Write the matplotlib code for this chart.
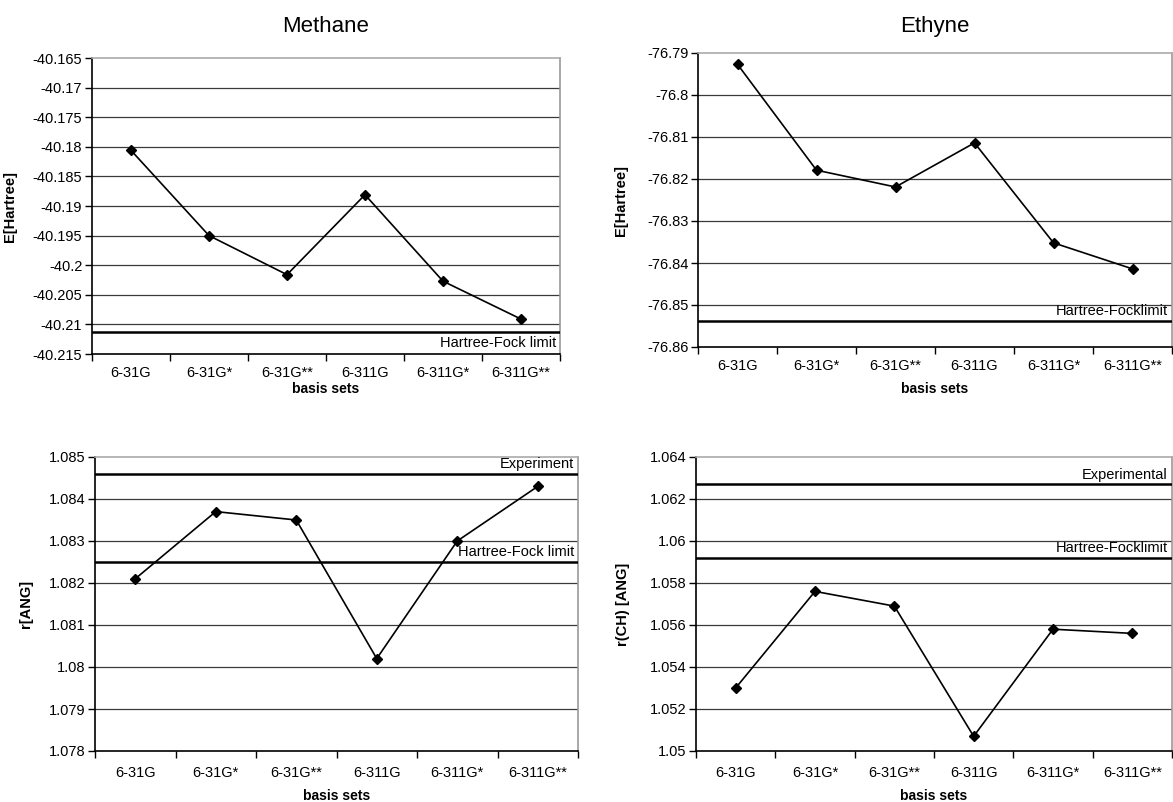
import matplotlib
matplotlib.use("Agg")
import matplotlib.pyplot as plt
from matplotlib.ticker import FixedLocator, FuncFormatter

plt.rcParams['font.family'] = ['Liberation Sans', 'DejaVu Sans']

# data
basis_sets = ['6-31G', '6-31G*', '6-31G**', '6-311G', '6-311G*', '6-311G**']

methane_E = [-40.1806, -40.1950, -40.2016, -40.1881, -40.2027, -40.2091]
methane_E_hf = -40.2112

ethyne_E = [-76.7927, -76.8179, -76.8219, -76.8114, -76.8352, -76.8414]
ethyne_E_hf = -76.8538

methane_r = [1.0821, 1.0837, 1.0835, 1.0802, 1.0830, 1.0843]
methane_r_exp = 1.0846
methane_r_hf = 1.0825

ethyne_r = [1.0530, 1.0576, 1.0569, 1.0507, 1.0558, 1.0556]
ethyne_r_exp = 1.0627
ethyne_r_hf = 1.0592

W, H = 1173, 802
fig = plt.figure(figsize=(W / 100, H / 100), dpi=100)


def make_axes(left, right, top, bottom):
    return fig.add_axes([left / W, 1 - bottom / H, (right - left) / W, (bottom - top) / H])


def fmt(v, pos):
    return f"{v:.4f}".rstrip('0').rstrip('.')


def style(ax, vals, ymin, ymax, step, ylabel, ylab_x, xlab_y, pad):
    x = list(range(len(basis_sets)))
    ax.plot(x, vals, color='black', lw=1.2, marker='D', ms=5, zorder=5)
    ax.set_xlim(-0.5, len(basis_sets) - 0.5)
    ax.set_ylim(ymin, ymax)
    n = int(round((ymax - ymin) / step))
    ticks = [ymin + i * step for i in range(n + 1)]
    ax.yaxis.set_major_locator(FixedLocator(ticks))
    ax.yaxis.set_major_formatter(FuncFormatter(fmt))
    for t in ticks[1:-1]:
        ax.axhline(t, color='#3a3a3a', lw=0.9, zorder=1)
    ax.set_xticks(x)
    ax.set_xticklabels(basis_sets)
    ax.set_xticks([i - 0.5 for i in range(len(basis_sets) + 1)], minor=True)
    ax.tick_params(axis='x', which='major', length=0, pad=pad, labelsize=10.5)
    ax.tick_params(axis='x', which='minor', length=5, direction='out', width=1)
    ax.tick_params(axis='y', length=5, direction='out', width=1, labelsize=10.5, pad=2)
    for s in ['left', 'bottom']:
        ax.spines[s].set_color('black')
        ax.spines[s].set_linewidth(1.2)
    ax.spines['top'].set_color('#aaaaaa')
    ax.spines['right'].set_color('#999999')
    ax.spines['top'].set_linewidth(1.2)
    ax.spines['right'].set_linewidth(1.2)
    ax.set_ylabel(ylabel, fontsize=10.5, fontweight='bold')
    ax.set_xlabel('basis sets', fontsize=10, fontweight='bold')
    bb = ax.get_position()
    ax.yaxis.set_label_coords((ylab_x / W - bb.x0) / bb.width, 0.5)
    ax.xaxis.set_label_coords(0.5, xlab_y)


def ref_line(ax, y, label, below=False):
    ax.axhline(y, color='black', lw=1.8, zorder=3)
    ax.annotate(label, xy=(1, y), xycoords=('axes fraction', 'data'),
                xytext=(-3, -3 if below else 2), textcoords='offset points',
                ha='right', va='top' if below else 'bottom', fontsize=10.5)


ax1 = make_axes(92, 560, 58, 354)
style(ax1, methane_E, -40.215, -40.165, 0.005, 'E[Hartree]', 17, -0.095, 9)
ref_line(ax1, methane_E_hf, 'Hartree-Fock limit', below=True)
ax1.set_title('Methane', fontsize=16, pad=19)

ax2 = make_axes(698, 1172, 53, 347)
style(ax2, ethyne_E, -76.86, -76.79, 0.01, 'E[Hartree]', 628, -0.12, 9)
ref_line(ax2, ethyne_E_hf, 'Hartree-Focklimit')
ax2.set_title('Ethyne', fontsize=16, pad=15)

ax3 = make_axes(95, 578, 457, 751)
style(ax3, methane_r, 1.078, 1.085, 0.001, 'r[ANG]', 33, -0.13, 11)
ref_line(ax3, methane_r_exp, 'Experiment')
ref_line(ax3, methane_r_hf, 'Hartree-Fock limit')

ax4 = make_axes(696, 1172, 457, 751)
style(ax4, ethyne_r, 1.05, 1.064, 0.002, 'r(CH) [ANG]', 630, -0.13, 11)
ref_line(ax4, ethyne_r_exp, 'Experimental')
ref_line(ax4, ethyne_r_hf, 'Hartree-Focklimit')

fig.savefig('out.png', dpi=100)
